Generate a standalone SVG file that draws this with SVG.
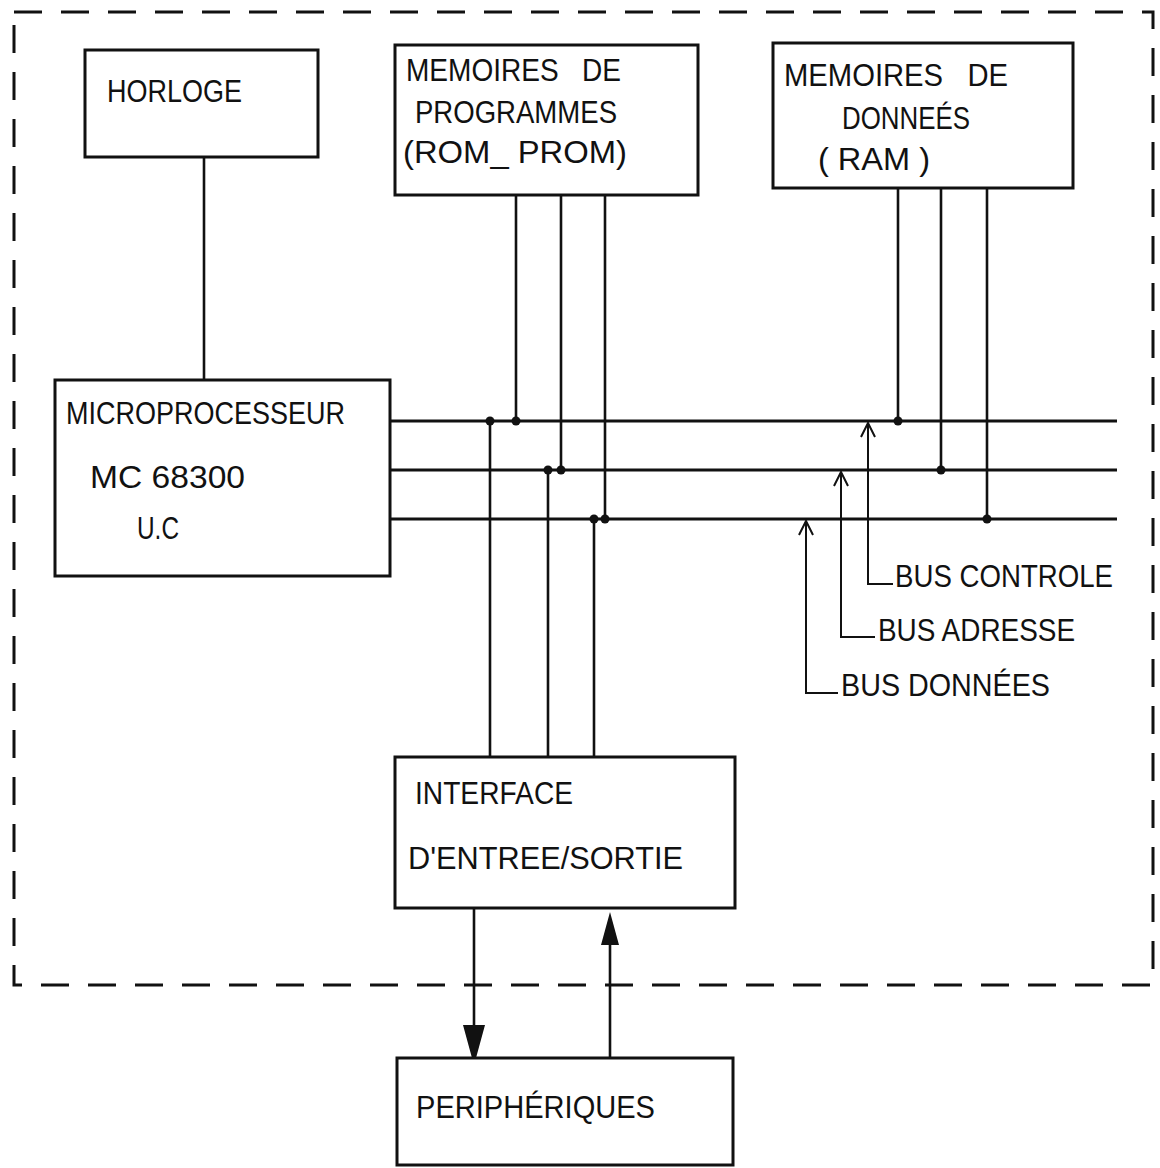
<svg xmlns="http://www.w3.org/2000/svg" width="1160" height="1168" viewBox="0 0 1160 1168">
<style>
.box{fill:none;stroke:#111;stroke-width:3}
.ln{fill:none;stroke:#111;stroke-width:2.6}
.bus{fill:none;stroke:#111;stroke-width:3.2}
.thin{fill:none;stroke:#111;stroke-width:2}
.dash{fill:none;stroke:#111;stroke-width:3;stroke-dasharray:28 19}
.t{font-family:"Liberation Sans","DejaVu Sans",sans-serif;font-size:32px;fill:#111;white-space:pre}
.dot{fill:#111}
</style>
<rect width="1160" height="1168" fill="#fff"/>
<g id="frame">
<path class="dash" d="M14 12 H1153 V985 H14 Z"/>
</g>
<g id="connectors">
<line class="ln" x1="204" y1="157" x2="204" y2="380"/>
<line class="bus" x1="390" y1="421" x2="1117" y2="421"/>
<line class="bus" x1="390" y1="470" x2="1117" y2="470"/>
<line class="bus" x1="390" y1="519" x2="1117" y2="519"/>
<line class="ln" x1="516" y1="195" x2="516" y2="421"/>
<line class="ln" x1="561" y1="195" x2="561" y2="470"/>
<line class="ln" x1="605" y1="195" x2="605" y2="519"/>
<line class="ln" x1="898" y1="188" x2="898" y2="421"/>
<line class="ln" x1="941" y1="188" x2="941" y2="470"/>
<line class="ln" x1="987" y1="188" x2="987" y2="519"/>
<line class="ln" x1="490" y1="421" x2="490" y2="757"/>
<line class="ln" x1="548" y1="470" x2="548" y2="757"/>
<line class="ln" x1="594" y1="519" x2="594" y2="757"/>
<circle class="dot" cx="516" cy="421" r="4.5"/>
<circle class="dot" cx="561" cy="470" r="4.5"/>
<circle class="dot" cx="605" cy="519" r="4.5"/>
<circle class="dot" cx="490" cy="421" r="4.5"/>
<circle class="dot" cx="548" cy="470" r="4.5"/>
<circle class="dot" cx="594" cy="519" r="4.5"/>
<circle class="dot" cx="898" cy="421" r="4.5"/>
<circle class="dot" cx="941" cy="470" r="4.5"/>
<circle class="dot" cx="987" cy="519" r="4.5"/>
<path class="thin" d="M893 584 H868 V423 M861 437 L868 423 L875 437"/>
<path class="thin" d="M875 637 H841 V472 M834 486 L841 472 L848 486"/>
<path class="thin" d="M838 693 H806 V521 M799 535 L806 521 L813 535"/>
<line class="ln" x1="474" y1="908" x2="474" y2="1030"/>
<path class="dot" d="M463 1025 L485 1025 L476 1058 L472 1058 Z"/>
<line class="ln" x1="610" y1="940" x2="610" y2="1058"/>
<path class="dot" d="M610 912 L619 945 L601 945 Z"/>
</g>
<g id="horloge">
<rect class="box" x="85" y="50" width="233" height="107"/>
<text class="t" x="107" y="102" textLength="135" lengthAdjust="spacingAndGlyphs">HORLOGE</text>
</g>
<g id="memoires-programmes">
<rect class="box" x="395" y="45" width="303" height="150"/>
<text class="t" x="406" y="81" textLength="215" lengthAdjust="spacingAndGlyphs">MEMOIRES   DE</text>
<text class="t" x="415" y="123" textLength="202" lengthAdjust="spacingAndGlyphs">PROGRAMMES</text>
<text class="t" x="403" y="163" textLength="224" lengthAdjust="spacingAndGlyphs">(ROM_ PROM)</text>
</g>
<g id="memoires-donnees">
<rect class="box" x="773" y="43" width="300" height="145"/>
<text class="t" x="784" y="86" textLength="224" lengthAdjust="spacingAndGlyphs">MEMOIRES   DE</text>
<text class="t" x="842" y="129" textLength="128" lengthAdjust="spacingAndGlyphs">DONNEÉS</text>
<text class="t" x="818" y="170" textLength="112" lengthAdjust="spacingAndGlyphs">( RAM )</text>
</g>
<g id="microprocesseur">
<rect class="box" x="55" y="380" width="335" height="196"/>
<text class="t" x="66" y="424" textLength="279" lengthAdjust="spacingAndGlyphs">MICROPROCESSEUR</text>
<text class="t" x="90" y="488" textLength="155" lengthAdjust="spacingAndGlyphs">MC 68300</text>
<text class="t" x="137" y="539" textLength="42" lengthAdjust="spacingAndGlyphs">U.C</text>
</g>
<g id="bus-labels">
<text class="t" x="895" y="587" textLength="218" lengthAdjust="spacingAndGlyphs">BUS CONTROLE</text>
<text class="t" x="878" y="641" textLength="197" lengthAdjust="spacingAndGlyphs">BUS ADRESSE</text>
<text class="t" x="841" y="696" textLength="209" lengthAdjust="spacingAndGlyphs">BUS DONNÉES</text>
</g>
<g id="interface">
<rect class="box" x="395" y="757" width="340" height="151"/>
<text class="t" x="415" y="804" textLength="158" lengthAdjust="spacingAndGlyphs">INTERFACE</text>
<text class="t" x="408" y="869" textLength="275" lengthAdjust="spacingAndGlyphs">D'ENTREE/SORTIE</text>
</g>
<g id="peripheriques">
<rect class="box" x="397" y="1058" width="336" height="107"/>
<text class="t" x="416" y="1118" textLength="239" lengthAdjust="spacingAndGlyphs">PERIPHÉRIQUES</text>
</g>
</svg>
